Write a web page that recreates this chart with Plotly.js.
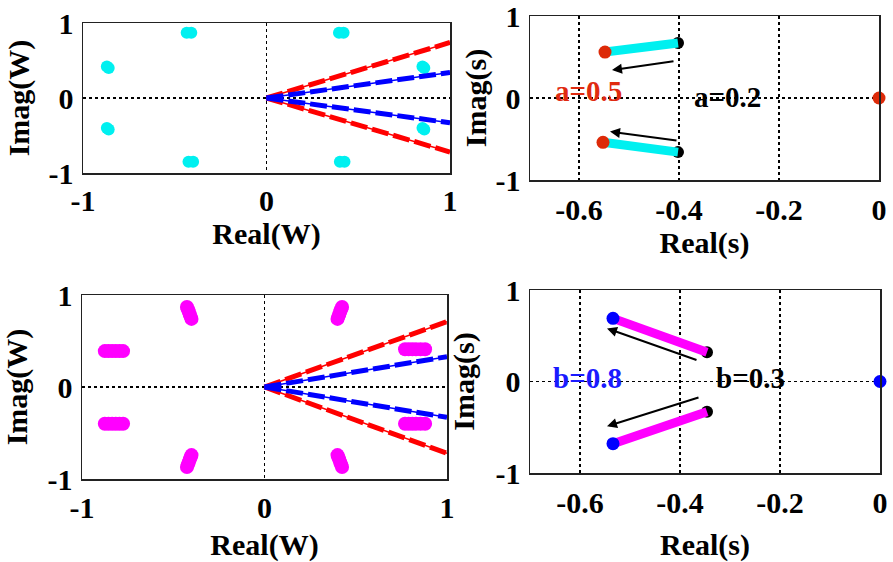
<!DOCTYPE html>
<html><head><meta charset="utf-8">
<script src="https://cdn.plot.ly/plotly-3.0.1.min.js"></script>
<style>html,body{margin:0;padding:0;background:#fff}</style>
</head><body>
<div id="chart" style="width:893px;height:562px"></div>
<script>
// ---------- Data ----------
// Top-left: W-plane, cyan roots (clusters)
const wTopRootsReal = [-0.435,-0.41, 0.395,0.42, -0.87,-0.86, 0.85,0.86, -0.87,-0.86, 0.85,0.86, -0.425,-0.40, 0.40,0.425];
const wTopRootsImag = [0.87,0.87, 0.87,0.87, 0.42,0.40, 0.42,0.40, -0.40,-0.42, -0.40,-0.42, -0.85,-0.85, -0.85,-0.85];
const wTopRedRayImag = [0.74, -0.72];
const wTopBlueRayImag = [0.34, -0.33];

// Bottom-left: W-plane, magenta roots (elongated clusters)
const wBotRootsReal = [-0.425,-0.42,-0.415,-0.41,-0.405,-0.40, 0.425,0.42,0.415,0.41,0.405,0.40,
                       -0.875,-0.855,-0.835,-0.815,-0.795,-0.775, 0.77,0.79,0.81,0.83,0.855,0.88,
                       -0.875,-0.855,-0.835,-0.815,-0.795,-0.775, 0.77,0.79,0.81,0.83,0.855,0.88,
                       -0.40,-0.405,-0.41,-0.415,-0.42,-0.425, 0.40,0.405,0.41,0.415,0.42,0.425];
const wBotRootsImag = [0.87,0.845,0.82,0.79,0.765,0.74, 0.87,0.845,0.82,0.79,0.765,0.74,
                       0.39,0.39,0.39,0.39,0.39,0.39, 0.41,0.41,0.41,0.41,0.41,0.41,
                       -0.40,-0.40,-0.40,-0.40,-0.40,-0.40, -0.40,-0.40,-0.40,-0.40,-0.40,-0.40,
                       -0.74,-0.765,-0.79,-0.82,-0.845,-0.87, -0.74,-0.765,-0.79,-0.82,-0.845,-0.87];
const wBotRedRayImag = [0.71, -0.72];
const wBotBlueRayImag = [0.33, -0.33];
const rayEndReal = 1;

// Top-right: s-plane, parameter a from 0.2 to 0.5
const sTopStartReal = [-0.402, -0.402];   // a = 0.2 (black)
const sTopStartImag = [0.67, -0.66];
const sTopEndReal = [-0.548, -0.552];     // a = 0.5 (red)
const sTopEndImag = [0.56, -0.54];
const sTopPoleReal = [0];
const sTopPoleImag = [0];
const sTopArrowTail = [[-0.408, 0.45], [-0.402, -0.52]];
const sTopArrowHead = [[-0.534, 0.34], [-0.538, -0.41]];

// Bottom-right: s-plane, parameter b from 0.3 to 0.8
const sBotStartReal = [-0.346, -0.346];   // b = 0.3 (black)
const sBotStartImag = [0.32, -0.33];
const sBotEndReal = [-0.534, -0.534];     // b = 0.8 (blue)
const sBotEndImag = [0.69, -0.68];
const sBotPoleReal = [0];
const sBotPoleImag = [0];
const sBotArrowTail = [[-0.364, 0.23], [-0.36, -0.17]];
const sBotArrowHead = [[-0.546, 0.58], [-0.546, -0.49]];

// Labels
const labelsTop = [{t:'a=0.5', x:-0.582, y:0.085, c:'#e02a10'}, {t:'a=0.2', x:-0.304, y:0.01, c:'#000'}];
const labelsBot = [{t:'b=0.8', x:-0.586, y:0.04, c:'#1a1aff'}, {t:'b=0.3', x:-0.26, y:0.04, c:'#000'}];

// ---------- Build ----------
const FONT = '"Times New Roman", Times, "Liberation Serif", "DejaVu Serif", serif';
const RED = '#ff0000', BLUE = '#0000ff', CYAN = '#00f0f0', MAG = '#ff00ff', DOTRED = '#dd2a08';

function rays(imags) {
  const x = [], y = [];
  imags.forEach((v, i) => { if (i) { x.push(null); y.push(null); } x.push(0, rayEndReal); y.push(0, v); });
  return {x, y};
}
function segs(x0, y0, x1, y1) {
  const x = [], y = [];
  x0.forEach((_, i) => { if (i) { x.push(null); y.push(null); } x.push(x0[i], x1[i]); y.push(y0[i], y1[i]); });
  return {x, y};
}
const dashRay = '17px,5px';

const traces = [];
function addRays(imags, color, xa, ya) {
  const r = rays(imags);
  traces.push({x:r.x, y:r.y, xaxis:xa, yaxis:ya, mode:'lines', line:{color, width:1.5}});
  traces.push({x:r.x, y:r.y, xaxis:xa, yaxis:ya, mode:'lines', line:{color, width:5, dash:dashRay}});
}
// TL
traces.push({x: wTopRootsReal, y: wTopRootsImag, xaxis:'x', yaxis:'y', mode:'markers', marker:{color:CYAN, size:12}});
addRays(wTopRedRayImag, RED, 'x', 'y');
addRays(wTopBlueRayImag, BLUE, 'x', 'y');
// BL
traces.push({x: wBotRootsReal, y: wBotRootsImag, xaxis:'x3', yaxis:'y3', mode:'markers', marker:{color:MAG, size:14}});
addRays(wBotRedRayImag, RED, 'x3', 'y3');
addRays(wBotBlueRayImag, BLUE, 'x3', 'y3');
// TR
traces.push({x: sTopStartReal, y: sTopStartImag, xaxis:'x2', yaxis:'y2', mode:'markers', marker:{color:'#000', size:12}});
let s = segs(sTopStartReal, sTopStartImag, sTopEndReal, sTopEndImag);
traces.push({x:s.x, y:s.y, xaxis:'x2', yaxis:'y2', mode:'lines', line:{color:CYAN, width:9}});
traces.push({x: sTopEndReal.concat(sTopPoleReal), y: sTopEndImag.concat(sTopPoleImag), xaxis:'x2', yaxis:'y2', mode:'markers', marker:{color:DOTRED, size:13}, cliponaxis:false});
// BR
traces.push({x: sBotStartReal, y: sBotStartImag, xaxis:'x4', yaxis:'y4', mode:'markers', marker:{color:'#000', size:12}});
s = segs(sBotStartReal, sBotStartImag, sBotEndReal, sBotEndImag);
traces.push({x:s.x, y:s.y, xaxis:'x4', yaxis:'y4', mode:'lines', line:{color:MAG, width:9}});
traces.push({x: sBotEndReal.concat(sBotPoleReal), y: sBotEndImag.concat(sBotPoleImag), xaxis:'x4', yaxis:'y4', mode:'markers', marker:{color:BLUE, size:13}, cliponaxis:false});

const tickfont = {family: FONT, size: 30, color:'#000', weight:'bold'};
const titlefont = {family: FONT, size: 30, color:'#000', weight:'bold'};
function ax(domain, range, tickvals, ticktext, title, anchor, extra) {
  return Object.assign({
    domain, range, tickvals, ticktext, anchor,
    tickmode:'array', tickfont, showline:true, mirror:true, linecolor:'#222', linewidth:1.5,
    zeroline:false, showgrid:true, gridcolor:'#000', gridwidth:1.5, griddash:'dot',
    ticks:'', fixedrange:true, ticklabeloverflow:'allow',
    title:{text:title, font:titlefont}
  }, extra || {});
}
const W = 893, H = 562;
const xd = (a, b) => [a / W, b / W];
const yd = (top, bot) => [1 - bot / H, 1 - top / H];

const annotations = [];
function arrows(tails, heads, xr, yr) {
  tails.forEach((t, i) => annotations.push({
    x: heads[i][0], y: heads[i][1], ax: t[0], ay: t[1], xref:xr, yref:yr, axref:xr, ayref:yr,
    text:'', showarrow:true, arrowhead:2, arrowsize:1, arrowwidth:2, arrowcolor:'#000'
  }));
}
arrows(sTopArrowTail, sTopArrowHead, 'x2', 'y2');
arrows(sBotArrowTail, sBotArrowHead, 'x4', 'y4');
labelsTop.forEach(l => annotations.push({x:l.x, y:l.y, xref:'x2', yref:'y2', text:l.t, showarrow:false, font:{family:FONT, size:29, color:l.c, weight:'bold'}}));
labelsBot.forEach(l => annotations.push({x:l.x, y:l.y, xref:'x4', yref:'y4', text:l.t, showarrow:false, font:{family:FONT, size:29, color:l.c, weight:'bold'}}));

const layout = {
  width: W, height: H, margin:{l:0, r:0, t:0, b:0}, showlegend:false,
  paper_bgcolor:'#fff', plot_bgcolor:'#fff', font:{family: FONT},
  xaxis: ax(xd(83, 450), [-1, 1], [-1, 0, 1], ['-1','0','1'], 'Real(W)', 'y', {ticklabelstandoff:0, title:{text:'Real(W)', font:titlefont, standoff:0}}),
  yaxis: ax(yd(23, 173), [-1, 1], [-1, 0, 1], ['-1','0','1'], 'Imag(W)', 'x', {ticklabelstandoff:2, title:{text:'Imag(W)', font:titlefont, standoff:10}}),
  xaxis2: ax(xd(530, 879), [-0.698, 0], [-0.6, -0.4, -0.2, 0], ['-0.6','-0.4','-0.2','0'], 'Real(s)', 'y2', {ticklabelstandoff:2, title:{text:'Real(s)', font:titlefont, standoff:0}}),
  yaxis2: ax(yd(16, 180), [-1, 1], [-1, 0, 1], ['-1','0','1'], 'Imag(s)', 'x2', {ticklabelstandoff:2, title:{text:'Imag(s)', font:titlefont, standoff:0}}),
  xaxis3: ax(xd(82, 447), [-1, 1], [-1, 0, 1], ['-1','0','1'], 'Real(W)', 'y3', {ticklabelstandoff:1, title:{text:'Real(W)', font:titlefont, standoff:14}}),
  yaxis3: ax(yd(295, 479), [-1, 1], [-1, 0, 1], ['-1','0','1'], 'Imag(W)', 'x3', {ticklabelstandoff:2, title:{text:'Imag(W)', font:titlefont, standoff:18}}),
  xaxis4: ax(xd(530, 880), [-0.7, 0], [-0.6, -0.4, -0.2, 0], ['-0.6','-0.4','-0.2','0'], 'Real(s)', 'y4', {ticklabelstandoff:2, title:{text:'Real(s)', font:titlefont, standoff:-3}}),
  yaxis4: ax(yd(290, 473), [-1, 1], [-1, 0, 1], ['-1','0','1'], 'Imag(s)', 'x4', {ticklabelstandoff:2, title:{text:'Imag(s)', font:titlefont, standoff:12}}),
  annotations
};
Plotly.newPlot('chart', traces, layout, {displayModeBar:false, staticPlot:true});
</script>
</body></html>
